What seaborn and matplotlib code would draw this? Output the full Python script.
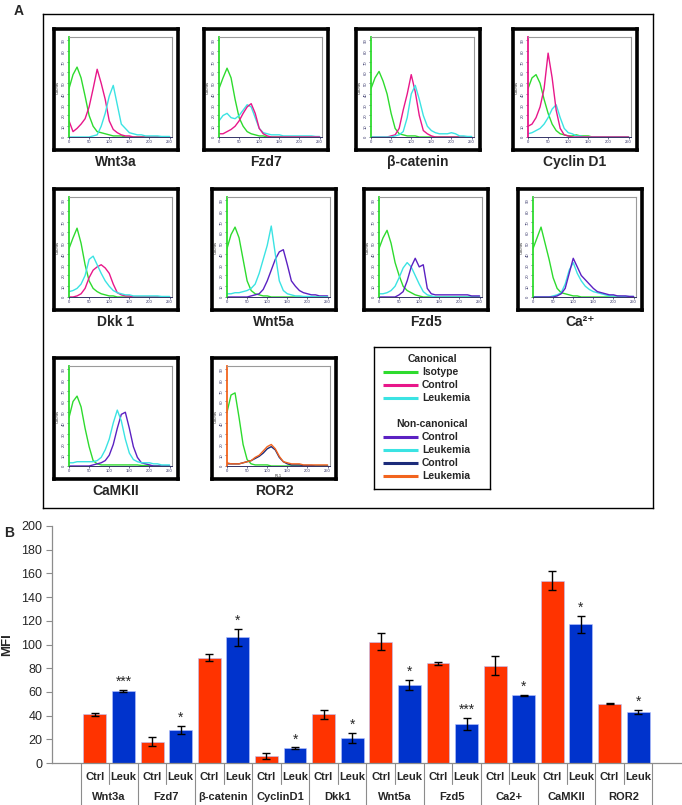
import numpy as np
import pandas as pd
import matplotlib
matplotlib.use('Agg')
import matplotlib.pyplot as plt
import seaborn as sns

sns.set_theme(style='white')
plt.rcParams['font.family'] = ['Liberation Sans', 'DejaVu Sans']

# ---------------- Panel B data (MFI) ----------------
groups = ['Wnt3a', 'Fzd7', 'β-catenin', 'CyclinD1', 'Dkk1', 'Wnt5a', 'Fzd5', 'Ca2+', 'CaMKII', 'ROR2']
ctrl_mfi = [41, 18, 89, 6, 41, 102.5, 84, 82, 154, 50]
ctrl_err = [1, 3.7, 2.8, 2.4, 3.8, 7, 1.5, 8, 8, 0.6]
leuk_mfi = [61, 28, 106, 12.5, 21, 65.5, 33, 57, 117, 43]
leuk_err = [1, 3.4, 7, 0.6, 4.2, 4.2, 5.2, 0.5, 7.4, 2]
leuk_stars = ['***', '*', '*', '*', '*', '*', '***', '*', '*', '*']

# ---------------- Panel A data (flow histograms, counts) ----------------
channel = [0, 10, 20, 30, 40, 50, 60, 70, 80, 90, 100, 110, 120, 130, 140, 150,
           160, 170, 180, 190, 200, 210, 220, 230, 240, 250]

wnt3a_iso = [45, 58, 65, 55, 38, 20, 10, 5, 4, 3, 2, 1, 1, 1, 0, 0, 0, 0, 0, 0, 0, 0, 0, 0, 0, 0]
wnt3a_ctrl = [15, 5, 8, 12, 17, 28, 45, 63, 50, 35, 15, 7, 4, 2, 1, 1, 0, 0, 0, 0, 0, 0, 0, 0, 0, 0]
wnt3a_leuk = [0, 0, 0, 0, 0, 0, 1, 2, 10, 22, 38, 48, 30, 12, 8, 4, 3, 2, 2, 1, 1, 1, 1, 0.5, 0.5, 0.5]

fzd7_iso = [45, 55, 64, 55, 35, 18, 10, 5, 3, 2, 1, 1, 0, 0, 0, 0, 0, 0, 0, 0, 0, 0, 0, 0, 0, 0]
fzd7_ctrl = [3, 3, 5, 7, 10, 15, 22, 28, 31, 22, 8, 3, 1, 0, 0, 0, 0, 0, 0, 0, 0, 0, 0, 0, 0, 0]
fzd7_leuk = [15, 20, 22, 18, 17, 20, 25, 30, 28, 18, 8, 4, 3, 2, 2, 2, 1, 1, 1, 1, 1, 1, 1, 1, 0.5, 0.5]

bcat_iso = [45, 55, 61, 52, 40, 22, 8, 3, 2, 1, 1, 1, 0, 0, 0, 0, 0, 0, 0, 0, 0, 0, 0, 0, 0, 0]
bcat_ctrl = [0, 0, 0, 0, 0, 1, 2, 8, 25, 40, 58, 42, 20, 6, 3, 1, 0, 0, 0, 0, 0, 0, 0, 0, 0, 0]
bcat_leuk = [0, 0, 0, 0, 0, 0, 1, 2, 5, 18, 40, 48, 35, 20, 10, 6, 4, 3, 3, 3, 4, 3, 1, 1, 0.5, 0.5]

ccnd1_iso = [45, 55, 58, 50, 35, 22, 12, 6, 3, 2, 1, 1, 2, 1, 1, 1, 0, 0, 0, 0, 0, 0, 0, 0, 0, 0]
ccnd1_ctrl = [10, 12, 18, 28, 45, 78, 55, 25, 8, 2, 1, 0, 0, 0, 0, 0, 0, 0, 0, 0, 0, 0, 0, 0, 0, 0]
ccnd1_leuk = [3, 4, 6, 8, 12, 18, 26, 30, 18, 8, 4, 3, 1, 1, 0, 0, 0, 0, 0, 0, 0, 0, 0, 0, 0, 0]

dkk1_iso = [45, 55, 64, 50, 30, 15, 8, 5, 3, 2, 1, 1, 0, 0, 0, 0, 0, 0, 0, 0, 0, 0, 0, 0, 0, 0]
dkk1_ctrl = [0, 0, 1, 3, 8, 18, 25, 28, 30, 27, 22, 12, 4, 2, 1, 1, 0, 0, 0, 0, 0, 0, 0, 0, 0, 0]
dkk1_leuk = [5, 6, 8, 12, 20, 35, 38, 30, 22, 15, 10, 6, 4, 3, 2, 2, 1, 1, 1, 1, 1, 1, 1, 0.5, 0.5, 0.5]

wnt5a_iso = [45, 58, 65, 55, 35, 15, 6, 3, 2, 1, 1, 0, 0, 0, 0, 0, 0, 0, 0, 0, 0, 0, 0, 0, 0, 0]
wnt5a_ctrl = [0, 0, 0, 0, 0, 0, 1, 2, 3, 7, 15, 25, 35, 42, 44, 30, 15, 10, 6, 4, 3, 2, 2, 1, 1, 1]
wnt5a_leuk = [3, 3, 4, 4, 5, 6, 8, 12, 22, 35, 48, 66, 40, 15, 6, 3, 2, 1, 1, 0.5, 0.5, 0.5, 0, 0, 0, 0]

fzd5_iso = [45, 55, 62, 50, 32, 20, 10, 6, 4, 2, 1, 0, 0, 0, 0, 0, 0, 0, 0, 0, 0, 0, 0, 0, 0, 0]
fzd5_ctrl = [0, 0, 0, 0, 0, 2, 5, 15, 28, 36, 28, 30, 8, 3, 2, 2, 2, 2, 2, 2, 2, 2, 2, 1, 1, 1]
fzd5_leuk = [3, 3, 4, 6, 10, 18, 27, 32, 28, 20, 12, 5, 2, 1, 0, 0, 0, 0, 0, 0, 0, 0, 0, 0, 0, 0]

ca_iso = [45, 55, 65, 50, 35, 18, 8, 4, 3, 2, 1, 1, 0, 0, 0, 0, 0, 0, 0, 0, 0, 0, 0, 0, 0, 0]
ca_ctrl = [0, 0, 0, 0, 0, 0, 1, 3, 8, 22, 36, 28, 20, 16, 12, 8, 5, 4, 3, 2, 2, 1, 1, 1, 0.5, 0.5]
ca_leuk = [0, 0, 0, 0, 0, 1, 2, 4, 12, 25, 32, 22, 15, 10, 7, 5, 4, 3, 2, 1, 1, 1, 0.5, 0.5, 0.5, 0.5]

camk_iso = [45, 60, 65, 55, 35, 18, 5, 2, 1, 1, 1, 1, 1, 1, 1, 1, 1, 1, 0.5, 0.5, 0.5, 0, 0, 0, 0, 0]
camk_ctrl = [0, 0, 0, 0, 0, 0, 1, 2, 3, 5, 10, 20, 35, 48, 50, 35, 18, 8, 3, 2, 1, 0, 0, 0, 0, 0]
camk_leuk = [3, 3, 4, 4, 4, 4, 4, 5, 8, 15, 25, 40, 52, 42, 25, 12, 6, 4, 3, 3, 3, 2, 2, 1, 1, 1]

ror2_iso = [50, 66, 68, 45, 20, 6, 2, 1, 1, 1, 1, 0, 0, 0, 0, 0, 0, 0, 0, 0, 0, 0, 0, 0, 0, 0]
ror2_ctrl = [2, 2, 2, 2, 3, 4, 5, 7, 9, 12, 16, 18, 15, 8, 4, 2, 1, 1, 1, 0.5, 0.5, 0.5, 0, 0, 0, 0]
ror2_leuk = [3, 2, 2, 2, 3, 4, 5, 8, 10, 14, 18, 20, 16, 9, 4, 3, 2, 2, 2, 1, 1, 1, 1, 1, 1, 1]

# colours
GREEN = '#2EDB2E'
MAGENTA = '#E8178A'
CYAN = '#3BE3E3'
PURPLE = '#5B21C2'
NAVY = '#1C2C7A'
ORANGE = '#F2641E'
RED_BAR = '#FF3300'
BLUE_BAR = '#0033CC'

W, H = 682, 805
fig = plt.figure(figsize=(W / 100, H / 100), dpi=100)
fig.patch.set_facecolor('white')


def fbox(x0, y0, w, h):
    # pixel box (top-left origin) -> figure fraction
    return [x0 / W, 1 - (y0 + h) / H, w / W, h / H]


# outer frame of panel A
frame = fig.add_axes(fbox(43, 14, 610, 494), zorder=0)
frame.set_xticks([])
frame.set_yticks([])
for s in frame.spines.values():
    s.set_color('black')
    s.set_linewidth(1.0)
fig.text(14 / W, 1 - 11 / H, 'A', fontsize=10, fontweight='bold', ha='left', va='center')

# (label, box x, box y, curves, left-axis colour)
panels = [
    ('Wnt3a', 54, 29, [('Isotype', wnt3a_iso, GREEN), ('Control', wnt3a_ctrl, MAGENTA), ('Leukemia', wnt3a_leuk, CYAN)], GREEN),
    ('Fzd7', 204, 29, [('Isotype', fzd7_iso, GREEN), ('Leukemia', fzd7_leuk, CYAN), ('Control', fzd7_ctrl, MAGENTA)], GREEN),
    ('β-catenin', 356, 29, [('Isotype', bcat_iso, GREEN), ('Control', bcat_ctrl, MAGENTA), ('Leukemia', bcat_leuk, CYAN)], GREEN),
    ('Cyclin D1', 513, 29, [('Isotype', ccnd1_iso, GREEN), ('Leukemia', ccnd1_leuk, CYAN), ('Control', ccnd1_ctrl, MAGENTA)], MAGENTA),
    ('Dkk 1', 54, 189, [('Isotype', dkk1_iso, GREEN), ('Control', dkk1_ctrl, MAGENTA), ('Leukemia', dkk1_leuk, CYAN)], GREEN),
    ('Wnt5a', 212, 189, [('Isotype', wnt5a_iso, GREEN), ('Control', wnt5a_ctrl, PURPLE), ('Leukemia', wnt5a_leuk, CYAN)], GREEN),
    ('Fzd5', 364, 189, [('Isotype', fzd5_iso, GREEN), ('Leukemia', fzd5_leuk, CYAN), ('Control', fzd5_ctrl, PURPLE)], GREEN),
    ('Ca²⁺', 518, 189, [('Isotype', ca_iso, GREEN), ('Leukemia', ca_leuk, CYAN), ('Control', ca_ctrl, PURPLE)], GREEN),
    ('CaMKII', 54, 358, [('Isotype', camk_iso, GREEN), ('Control', camk_ctrl, PURPLE), ('Leukemia', camk_leuk, CYAN)], GREEN),
    ('ROR2', 212, 358, [('Isotype', ror2_iso, GREEN), ('Control', ror2_ctrl, NAVY), ('Leukemia', ror2_leuk, ORANGE)], ORANGE),
]

BW, BH = 124, 121
for label, bx, by, curves, axis_col in panels:
    box = fig.add_axes(fbox(bx, by, BW, BH), zorder=1)
    box.set_xticks([])
    box.set_yticks([])
    box.set_facecolor('white')
    for s in box.spines.values():
        s.set_color('black')
        s.set_linewidth(2.6)

    ax = fig.add_axes(fbox(bx + 15, by + 8, BW - 21, BH - 21), zorder=2)
    rows = []
    for name, vals, col in curves:
        rows.append(pd.DataFrame({'channel': channel, 'count': vals, 'series': name}))
    hdf = pd.concat(rows, ignore_index=True)
    pal = {name: col for name, _, col in curves}
    sns.lineplot(data=hdf, x='channel', y='count', hue='series', palette=pal,
                 hue_order=[c[0] for c in curves], estimator=None, legend=False,
                 linewidth=1.0, ax=ax)
    ax.set_xlim(0, 256)
    ax.set_ylim(0, 93)
    ax.set_xticks([0, 50, 100, 150, 200, 250])
    ax.set_yticks(range(0, 100, 10))
    ax.tick_params(axis='both', which='both', direction='out', length=1.5, width=0.5,
                   pad=1, colors='#333366', labelsize=3)
    ax.tick_params(axis='y', labelrotation=90)
    ax.tick_params(left=True, bottom=True)
    ax.set_xlabel('FL1' if label == 'ROR2' else '', fontsize=3, labelpad=0.5)
    ax.set_ylabel('Counts', fontsize=3, labelpad=1)
    for side in ['top', 'right']:
        ax.spines[side].set_color('#9a9a9a')
        ax.spines[side].set_linewidth(0.8)
    ax.spines['bottom'].set_color('#333366')
    ax.spines['bottom'].set_linewidth(0.7)
    ax.spines['left'].set_color(axis_col)
    ax.spines['left'].set_linewidth(1.3)

    fig.text((bx + BW / 2) / W, 1 - (by + BH + 12) / H, label, fontsize=10,
             fontweight='bold', ha='center', va='center')

# legend box
lx0, ly0, lw, lh = 374, 347, 116, 142
leg = fig.add_axes(fbox(lx0, ly0, lw, lh), zorder=1)
leg.set_xlim(lx0, lx0 + lw)
leg.set_ylim(ly0 + lh, ly0)
leg.set_xticks([])
leg.set_yticks([])
for s in leg.spines.values():
    s.set_color('black')
    s.set_linewidth(1.0)
legend_rows = [
    ('Canonical', None, 359), ('Isotype', GREEN, 372), ('Control', MAGENTA, 385), ('Leukemia', CYAN, 398),
    ('Non-canonical', None, 424), ('Control', PURPLE, 437), ('Leukemia', CYAN, 450),
    ('Control', NAVY, 463), ('Leukemia', ORANGE, 476),
]
for txt, col, yy in legend_rows:
    if col is None:
        leg.text(lx0 + lw / 2, yy, txt, fontsize=7.5, fontweight='bold', ha='center', va='center')
    else:
        leg.plot([lx0 + 9, lx0 + 44], [yy, yy], color=col, linewidth=2.2, solid_capstyle='butt')
        leg.text(lx0 + 48, yy, txt, fontsize=7.5, fontweight='bold', ha='left', va='center')

# ---------------- Panel B ----------------
bar_df = pd.DataFrame({
    'group': groups * 2,
    'cond': ['Ctrl'] * len(groups) + ['Leuk'] * len(groups),
    'mfi': ctrl_mfi + leuk_mfi,
})
axb = fig.add_axes(fbox(52, 526, 629, 237))
sns.barplot(data=bar_df, x='group', y='mfi', hue='cond', order=groups,
            hue_order=['Ctrl', 'Leuk'], palette={'Ctrl': RED_BAR, 'Leuk': BLUE_BAR},
            width=1.0, gap=0.2, errorbar=None, legend=False, ax=axb, saturation=1,
            edgecolor='#b8c4ff', linewidth=0.4)

for cont, errs, cond in zip(axb.containers, [ctrl_err, leuk_err], ['Ctrl', 'Leuk']):
    xs = [p.get_x() + p.get_width() / 2 for p in cont]
    ys = [p.get_height() for p in cont]
    axb.errorbar(xs, ys, yerr=errs, fmt='none', ecolor='black', elinewidth=1.0,
                 capsize=3, capthick=1.0)
    for x in xs:
        axb.text(x, -0.06, cond, transform=axb.get_xaxis_transform(), ha='center',
                 va='center', fontsize=8, fontweight='bold', clip_on=False)
    if cond == 'Leuk':
        for x, y, e, st in zip(xs, ys, errs, leuk_stars):
            axb.text(x, y + e + 1, st, ha='center', va='bottom', fontsize=10)

axb.set_ylim(0, 200)
axb.set_yticks(range(0, 201, 20))
axb.set_xticks([])
axb.set_xlabel('')
axb.set_ylabel('MFI', fontsize=9.5, fontweight='bold', labelpad=6)
axb.tick_params(axis='y', left=True, length=4, width=0.8, color='#8c8c8c',
                labelsize=9, pad=3)
for side in ['top', 'right']:
    axb.spines[side].set_visible(False)
for side in ['left', 'bottom']:
    axb.spines[side].set_color('#8c8c8c')
    axb.spines[side].set_linewidth(0.9)

tr = axb.get_xaxis_transform()
for i, g in enumerate(groups):
    axb.text(i, -0.145, g, transform=tr, ha='center', va='center', fontsize=8,
             fontweight='bold', clip_on=False)
    axb.plot([i, i], [0, -0.09], transform=tr, color='#8c8c8c', lw=0.8, clip_on=False)
for b in np.arange(-0.5, len(groups), 1.0):
    axb.plot([b, b], [0, -0.2], transform=tr, color='#8c8c8c', lw=0.8, clip_on=False)

fig.text(4 / W, 1 - 533 / H, 'B', fontsize=10, fontweight='bold', ha='left', va='center')

fig.savefig('out.png', dpi=100, facecolor='white')
